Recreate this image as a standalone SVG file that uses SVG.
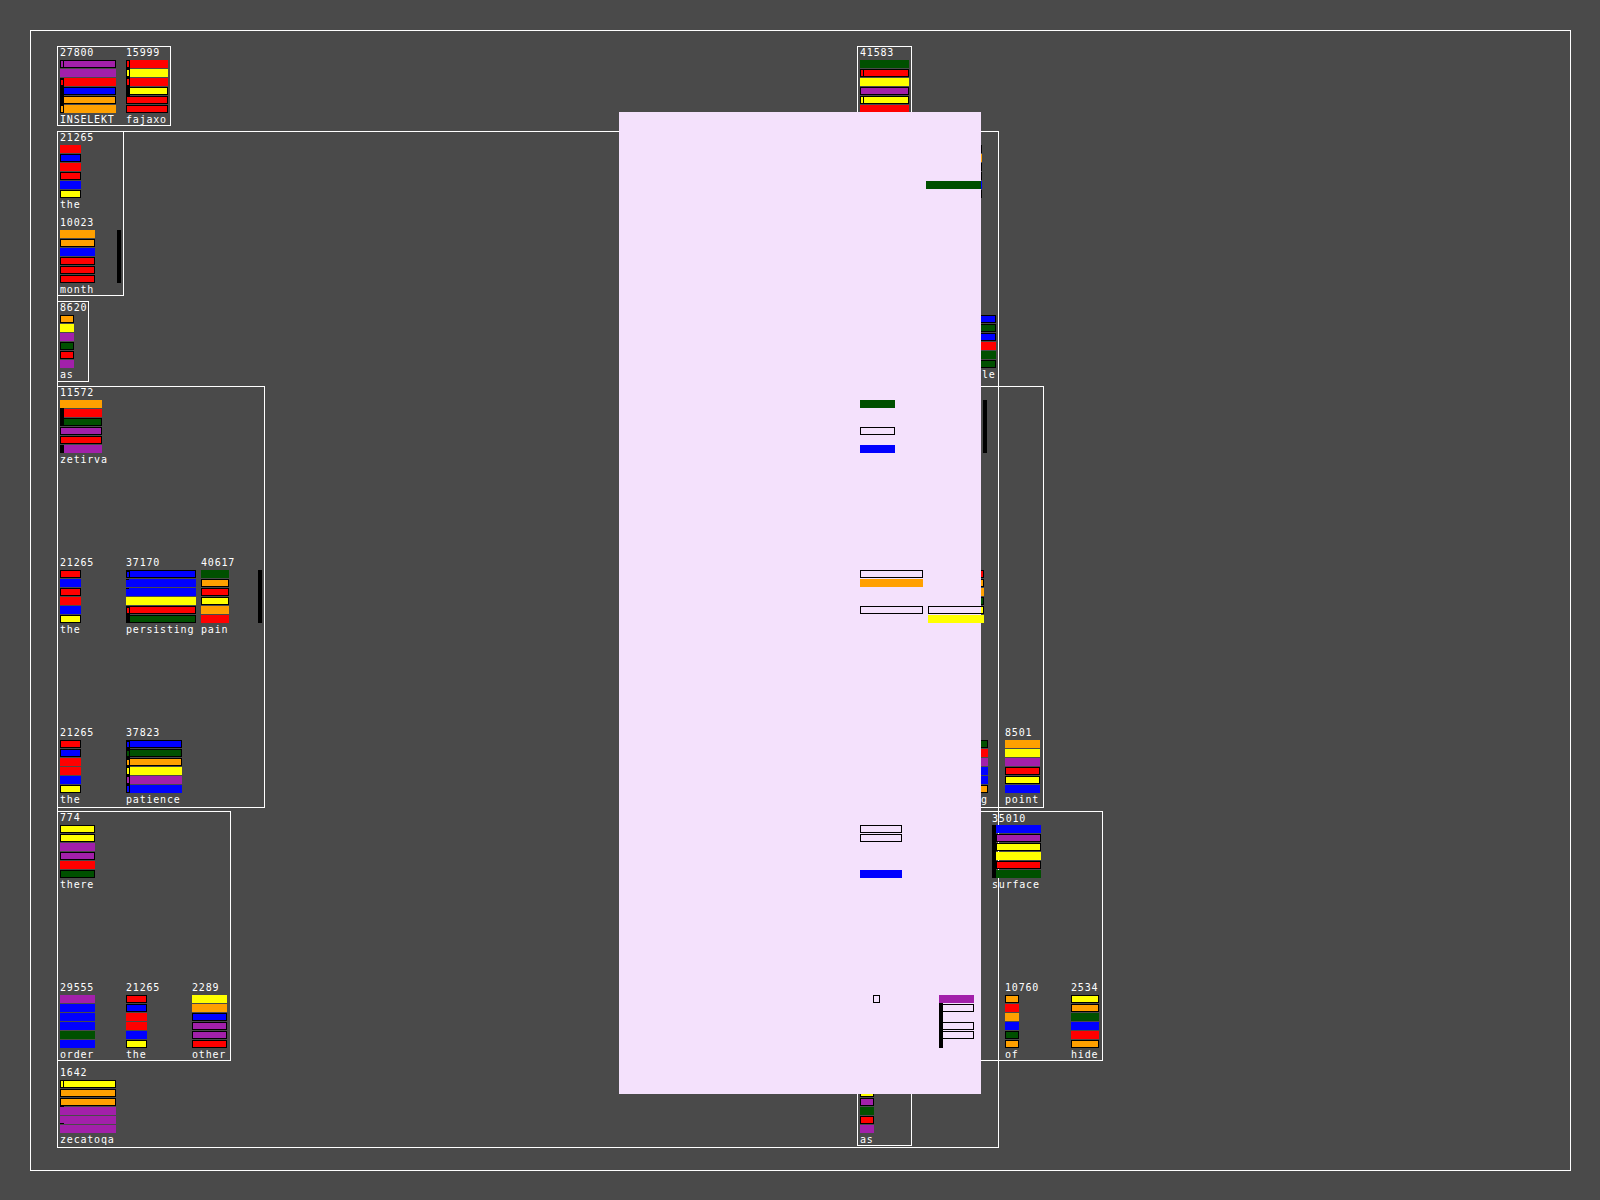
<svg xmlns="http://www.w3.org/2000/svg" width="1600" height="1200" viewBox="0 0 1600 1200">
<style>
.r{fill:#ff0000}.bl{fill:#0000ff}.y{fill:#ffff00}.o{fill:#ffa000}.p{fill:#a220aa}.g{fill:#005000}.k{fill:#000}
.s{stroke:#000;stroke-width:1}
.ol{fill:none;stroke:#000;stroke-width:1}
.box{fill:none;stroke:#fff;stroke-width:1}
.t{font-family:"DejaVu Sans Mono","Liberation Mono",monospace;font-size:10px;letter-spacing:0.8px;fill:#fff}
</style>
<rect width="1600" height="1200" fill="#4a4a4a"/>
<g id="boxes">
<rect class="box" x="30.5" y="30.5" width="1540" height="1140"/>
<rect class="box" x="57.5" y="46.5" width="113" height="79"/>
<rect class="box" x="857.5" y="46.5" width="54" height="79"/>
<rect class="box" x="57.5" y="131.5" width="941" height="1016"/>
<rect class="box" x="57.5" y="131.5" width="66" height="164"/>
<rect class="box" x="57.5" y="301.5" width="31" height="80"/>
<rect class="box" x="57.5" y="386.5" width="207" height="421"/>
<rect class="box" x="57.5" y="811.5" width="173" height="249"/>
<rect class="box" x="850.5" y="386.5" width="193" height="421"/>
<rect class="box" x="900.5" y="811.5" width="202" height="249"/>
<rect class="box" x="857.5" y="1066.5" width="54" height="79"/>
</g>
<g id="n27800">
<text class="t" x="60" y="56">27800</text>
<rect class="p s" x="60.5" y="60.5" width="55" height="7"/><rect class="k" x="63" y="61" width="1" height="6"/>
<rect class="p" x="60" y="69" width="56" height="8"/>
<rect class="r" x="60" y="78" width="56" height="8"/>
<rect class="bl s" x="60.5" y="87.5" width="55" height="7"/>
<rect class="o s" x="60.5" y="96.5" width="55" height="7"/>
<rect class="o" x="60" y="105" width="56" height="8"/>
<rect class="k" x="60" y="78" width="4" height="35"/><rect class="r" x="61" y="80" width="2" height="5"/><rect class="o" x="61" y="106" width="2" height="6"/>
<text class="t" x="60" y="123">INSELEKT</text>
</g>
<g id="n15999">
<text class="t" x="126" y="56">15999</text>
<rect class="r" x="126" y="60" width="42" height="8"/>
<rect class="y" x="126" y="69" width="42" height="8"/>
<rect class="r" x="126" y="78" width="42" height="8"/>
<rect class="y s" x="126.5" y="87.5" width="41" height="7"/>
<rect class="r s" x="126.5" y="96.5" width="41" height="7"/>
<rect class="r s" x="126.5" y="105.5" width="41" height="7"/>
<rect class="k" x="126" y="60" width="4" height="36"/><rect class="r" x="127" y="61" width="2" height="6"/><rect class="y" x="127" y="70" width="2" height="6"/><rect class="r" x="127" y="79" width="2" height="6"/>
<text class="t" x="126" y="123">fajaxo</text>
</g>
<g id="n41583">
<text class="t" x="860" y="56">41583</text>
<rect class="g" x="860" y="60" width="49" height="8"/>
<rect class="r s" x="860.5" y="69.5" width="48" height="7"/>
<rect class="y" x="860" y="78" width="49" height="8"/>
<rect class="p s" x="860.5" y="87.5" width="48" height="7"/>
<rect class="y s" x="860.5" y="96.5" width="48" height="7"/>
<rect class="r" x="860" y="105" width="49" height="8"/>
<rect class="k" x="860" y="69" width="4" height="8"/><rect class="r" x="861" y="70" width="2" height="6"/>
<rect class="k" x="860" y="96" width="4" height="8"/><rect class="y" x="861" y="97" width="2" height="6"/>
</g>
<g id="n21265a">
<text class="t" x="60" y="141">21265</text>
<rect class="r" x="60" y="145" width="21" height="8"/>
<rect class="bl s" x="60.5" y="154.5" width="20" height="7"/>
<rect class="r" x="60" y="163" width="21" height="8"/>
<rect class="r s" x="60.5" y="172.5" width="20" height="7"/>
<rect class="bl" x="60" y="181" width="21" height="8"/>
<rect class="y s" x="60.5" y="190.5" width="20" height="7"/>
<text class="t" x="60" y="208">the</text>
</g>
<g id="n10023">
<text class="t" x="60" y="226">10023</text>
<rect class="o" x="60" y="230" width="35" height="8"/>
<rect class="o s" x="60.5" y="239.5" width="34" height="7"/>
<rect class="bl" x="60" y="248" width="35" height="8"/>
<rect class="r s" x="60.5" y="257.5" width="34" height="7"/>
<rect class="r s" x="60.5" y="266.5" width="34" height="7"/>
<rect class="r s" x="60.5" y="275.5" width="34" height="7"/>
<rect class="k" x="117" y="230" width="4" height="53"/>
<text class="t" x="60" y="293">month</text>
</g>
<g id="n8620">
<text class="t" x="60" y="311">8620</text>
<rect class="o s" x="60.5" y="315.5" width="13" height="7"/>
<rect class="y" x="60" y="324" width="14" height="8"/>
<rect class="p" x="60" y="333" width="14" height="8"/>
<rect class="g s" x="60.5" y="342.5" width="13" height="7"/>
<rect class="r s" x="60.5" y="351.5" width="13" height="7"/>
<rect class="p" x="60" y="360" width="14" height="8"/>
<text class="t" x="60" y="378">as</text>
</g>
<g id="n11572">
<text class="t" x="60" y="396">11572</text>
<rect class="o" x="60" y="400" width="42" height="8"/>
<rect class="r" x="60" y="409" width="42" height="8"/>
<rect class="g s" x="60.5" y="418.5" width="41" height="7"/>
<rect class="p s" x="60.5" y="427.5" width="41" height="7"/>
<rect class="r s" x="60.5" y="436.5" width="41" height="7"/>
<rect class="p" x="60" y="445" width="42" height="8"/>
<rect class="k" x="60" y="408" width="4" height="18"/><rect class="k" x="60" y="445" width="4" height="8"/>
<text class="t" x="60" y="463">zetirva</text>
</g>
<g id="n21265b">
<text class="t" x="60" y="566">21265</text>
<rect class="r s" x="60.5" y="570.5" width="20" height="7"/>
<rect class="bl" x="60" y="579" width="21" height="8"/>
<rect class="r s" x="60.5" y="588.5" width="20" height="7"/>
<rect class="r" x="60" y="597" width="21" height="8"/>
<rect class="bl" x="60" y="606" width="21" height="8"/>
<rect class="y s" x="60.5" y="615.5" width="20" height="7"/>
<text class="t" x="60" y="633">the</text>
</g>
<g id="n37170">
<text class="t" x="126" y="566">37170</text>
<rect class="bl s" x="126.5" y="570.5" width="69" height="7"/>
<rect class="bl" x="126" y="579" width="70" height="8"/>
<rect class="bl" x="126" y="588" width="70" height="8"/>
<rect class="y" x="126" y="597" width="70" height="8"/>
<rect class="r s" x="126.5" y="606.5" width="69" height="7"/>
<rect class="g s" x="126.5" y="615.5" width="69" height="7"/>
<rect class="k" x="126" y="570" width="4" height="8"/><rect class="bl" x="127" y="572" width="2" height="5"/>
<rect class="k" x="126" y="579" width="3" height="1"/><rect class="k" x="126" y="588" width="3" height="1"/>
<rect class="k" x="126" y="606" width="4" height="17"/><rect class="r" x="127" y="608" width="2" height="5"/>
<text class="t" x="126" y="633">persisting</text>
</g>
<g id="n40617">
<text class="t" x="201" y="566">40617</text>
<rect class="g" x="201" y="570" width="28" height="8"/>
<rect class="o s" x="201.5" y="579.5" width="27" height="7"/>
<rect class="r s" x="201.5" y="588.5" width="27" height="7"/>
<rect class="y s" x="201.5" y="597.5" width="27" height="7"/>
<rect class="o" x="201" y="606" width="28" height="8"/>
<rect class="r" x="201" y="615" width="28" height="8"/>
<rect class="k" x="258" y="570" width="4" height="53"/>
<text class="t" x="201" y="633">pain</text>
</g>
<g id="n21265c">
<text class="t" x="60" y="736">21265</text>
<rect class="r s" x="60.5" y="740.5" width="20" height="7"/>
<rect class="bl s" x="60.5" y="749.5" width="20" height="7"/>
<rect class="r" x="60" y="758" width="21" height="8"/>
<rect class="r" x="60" y="767" width="21" height="8"/>
<rect class="bl" x="60" y="776" width="21" height="8"/>
<rect class="y s" x="60.5" y="785.5" width="20" height="7"/>
<text class="t" x="60" y="803">the</text>
</g>
<g id="n37823">
<text class="t" x="126" y="736">37823</text>
<rect class="bl s" x="126.5" y="740.5" width="55" height="7"/>
<rect class="g s" x="126.5" y="749.5" width="55" height="7"/>
<rect class="o s" x="126.5" y="758.5" width="55" height="7"/>
<rect class="y" x="126" y="767" width="56" height="8"/>
<rect class="p" x="126" y="776" width="56" height="8"/>
<rect class="bl" x="126" y="785" width="56" height="8"/>
<rect class="k" x="126" y="740" width="4" height="53"/>
<rect class="bl" x="127" y="742" width="2" height="5"/><rect class="g" x="127" y="751" width="2" height="5"/><rect class="o" x="127" y="760" width="2" height="5"/><rect class="y" x="127" y="768" width="2" height="6"/><rect class="p" x="127" y="777" width="2" height="6"/><rect class="bl" x="127" y="786" width="2" height="6"/>
<text class="t" x="126" y="803">patience</text>
</g>
<g id="n774">
<text class="t" x="60" y="821">774</text>
<rect class="y s" x="60.5" y="825.5" width="34" height="7"/>
<rect class="y s" x="60.5" y="834.5" width="34" height="7"/>
<rect class="p" x="60" y="843" width="35" height="8"/>
<rect class="p s" x="60.5" y="852.5" width="34" height="7"/>
<rect class="r" x="60" y="861" width="35" height="8"/>
<rect class="g s" x="60.5" y="870.5" width="34" height="7"/>
<text class="t" x="60" y="888">there</text>
</g>
<g id="n29555">
<text class="t" x="60" y="991">29555</text>
<rect class="p" x="60" y="995" width="35" height="8"/>
<rect class="bl" x="60" y="1004" width="35" height="8"/>
<rect class="bl" x="60" y="1013" width="35" height="8"/>
<rect class="bl" x="60" y="1022" width="35" height="8"/>
<rect class="g" x="60" y="1031" width="35" height="8"/>
<rect class="bl" x="60" y="1040" width="35" height="8"/>
<text class="t" x="60" y="1058">order</text>
</g>
<g id="n21265d">
<text class="t" x="126" y="991">21265</text>
<rect class="r s" x="126.5" y="995.5" width="20" height="7"/>
<rect class="bl s" x="126.5" y="1004.5" width="20" height="7"/>
<rect class="r" x="126" y="1013" width="21" height="8"/>
<rect class="r" x="126" y="1022" width="21" height="8"/>
<rect class="bl" x="126" y="1031" width="21" height="8"/>
<rect class="y s" x="126.5" y="1040.5" width="20" height="7"/>
<text class="t" x="126" y="1058">the</text>
</g>
<g id="n2289">
<text class="t" x="192" y="991">2289</text>
<rect class="y" x="192" y="995" width="35" height="8"/>
<rect class="o" x="192" y="1004" width="35" height="8"/>
<rect class="bl s" x="192.5" y="1013.5" width="34" height="7"/>
<rect class="p s" x="192.5" y="1022.5" width="34" height="7"/>
<rect class="p s" x="192.5" y="1031.5" width="34" height="7"/>
<rect class="r s" x="192.5" y="1040.5" width="34" height="7"/>
<text class="t" x="192" y="1058">other</text>
</g>
<g id="n1642">
<text class="t" x="60" y="1076">1642</text>
<rect class="y s" x="60.5" y="1080.5" width="55" height="7"/>
<rect class="o s" x="60.5" y="1089.5" width="55" height="7"/>
<rect class="o s" x="60.5" y="1098.5" width="55" height="7"/>
<rect class="p" x="60" y="1107" width="56" height="8"/>
<rect class="p" x="60" y="1116" width="56" height="8"/>
<rect class="p" x="60" y="1125" width="56" height="8"/>
<rect class="k" x="60" y="1080" width="4" height="8"/><rect class="y" x="61" y="1081" width="2" height="6"/>
<rect class="k" x="60" y="1106" width="4" height="1"/><rect class="k" x="60" y="1123" width="4" height="1"/>
<text class="t" x="60" y="1143">zecatoqa</text>
</g>
<g id="nAsBottom">
<rect class="y s" x="860.5" y="1089.5" width="13" height="7"/>
<rect class="p s" x="860.5" y="1098.5" width="13" height="7"/>
<rect class="g" x="860" y="1107" width="14" height="8"/>
<rect class="r s" x="860.5" y="1116.5" width="13" height="7"/>
<rect class="p" x="860" y="1125" width="14" height="8"/>
<text class="t" x="860" y="1143">as</text>
</g>
<g id="nHidden1">
<rect class="r s" x="961.5" y="145.5" width="20" height="7"/>
<rect class="o" x="961" y="154" width="21" height="8"/>
<rect class="r s" x="961.5" y="163.5" width="20" height="7"/>
<rect class="r s" x="961.5" y="172.5" width="20" height="7"/>
<rect class="bl" x="961" y="181" width="21" height="8"/>
<rect class="y s" x="961.5" y="190.5" width="20" height="7"/>
</g>
<g id="nLe">
<rect class="bl s" x="961.5" y="315.5" width="34" height="7"/>
<rect class="g s" x="961.5" y="324.5" width="34" height="7"/>
<rect class="bl s" x="961.5" y="333.5" width="34" height="7"/>
<rect class="r" x="961" y="342" width="35" height="8"/>
<rect class="g" x="961" y="351" width="35" height="8"/>
<rect class="g s" x="961.5" y="360.5" width="34" height="7"/>
<text class="t" x="982" y="378">le</text>
</g>
<g id="nHidden2">
<rect class="k" x="983" y="400" width="4" height="53"/>
<rect class="r s" x="928.5" y="570.5" width="55" height="7"/>
<rect class="o s" x="928.5" y="579.5" width="55" height="7"/>
<rect class="o" x="928" y="588" width="56" height="8"/>
<rect class="g s" x="928.5" y="597.5" width="55" height="7"/>
<rect class="y s" x="928.5" y="606.5" width="55" height="7"/>
<rect class="y" x="928" y="615" width="56" height="8"/>
</g>
<g id="nHidden3">
<rect class="g s" x="953.5" y="740.5" width="34" height="7"/>
<rect class="r" x="953" y="749" width="35" height="8"/>
<rect class="p" x="953" y="758" width="35" height="8"/>
<rect class="bl" x="953" y="767" width="35" height="8"/>
<rect class="bl" x="953" y="776" width="35" height="8"/>
<rect class="o s" x="953.5" y="785.5" width="34" height="7"/>
<text class="t" x="981" y="803">g</text>
</g>
<g id="n8501">
<text class="t" x="1005" y="736">8501</text>
<rect class="o" x="1005" y="740" width="35" height="8"/>
<rect class="y" x="1005" y="749" width="35" height="8"/>
<rect class="p" x="1005" y="758" width="35" height="8"/>
<rect class="r s" x="1005.5" y="767.5" width="34" height="7"/>
<rect class="y s" x="1005.5" y="776.5" width="34" height="7"/>
<rect class="bl" x="1005" y="785" width="35" height="8"/>
<text class="t" x="1005" y="803">point</text>
</g>
<g id="n35010">
<text class="t" x="992" y="822">35010</text>
<rect class="k" x="992" y="825" width="4" height="53"/>
<rect class="bl" x="996" y="825" width="45" height="8"/>
<rect class="p s" x="996.5" y="834.5" width="44" height="7"/>
<rect class="y s" x="996.5" y="843.5" width="44" height="7"/>
<rect class="y" x="996" y="852" width="45" height="8"/>
<rect class="r s" x="996.5" y="861.5" width="44" height="7"/>
<rect class="g" x="996" y="870" width="45" height="8"/>
<text class="t" x="992" y="888">surface</text>
</g>
<g id="n10760">
<text class="t" x="1005" y="991">10760</text>
<rect class="o s" x="1005.5" y="995.5" width="13" height="7"/>
<rect class="r" x="1005" y="1004" width="14" height="8"/>
<rect class="o" x="1005" y="1013" width="14" height="8"/>
<rect class="bl" x="1005" y="1022" width="14" height="8"/>
<rect class="g s" x="1005.5" y="1031.5" width="13" height="7"/>
<rect class="o s" x="1005.5" y="1040.5" width="13" height="7"/>
<text class="t" x="1005" y="1058">of</text>
</g>
<g id="n2534">
<text class="t" x="1071" y="991">2534</text>
<rect class="y s" x="1071.5" y="995.5" width="27" height="7"/>
<rect class="o s" x="1071.5" y="1004.5" width="27" height="7"/>
<rect class="g" x="1071" y="1013" width="28" height="8"/>
<rect class="bl" x="1071" y="1022" width="28" height="8"/>
<rect class="r" x="1071" y="1031" width="28" height="8"/>
<rect class="o s" x="1071.5" y="1040.5" width="27" height="7"/>
<text class="t" x="1071" y="1058">hide</text>
</g>
<rect id="overlay" x="619" y="112" width="362" height="982" fill="#f4e1fc"/>
<g id="onTop">
<rect class="g" x="926" y="181" width="55" height="8"/>
<rect class="g" x="860" y="400" width="35" height="8"/>
<rect class="ol" x="860.5" y="427.5" width="34" height="7"/>
<rect class="bl" x="860" y="445" width="35" height="8"/>
<rect class="ol" x="860.5" y="570.5" width="62" height="7"/>
<rect class="o" x="860" y="579" width="63" height="8"/>
<rect class="ol" x="860.5" y="606.5" width="62" height="7"/>
<rect class="ol" x="928.5" y="606.5" width="55" height="7"/>
<rect class="y" x="928" y="615" width="56" height="8"/>
<rect class="ol" x="860.5" y="825.5" width="41" height="7"/>
<rect class="ol" x="860.5" y="834.5" width="41" height="7"/>
<rect class="bl" x="860" y="870" width="42" height="8"/>
<rect class="ol" x="873.5" y="995.5" width="6" height="7"/>
<rect class="p" x="939" y="995" width="35" height="8"/>
<rect class="k" x="939" y="1003" width="4" height="45"/>
<rect class="ol" x="942.5" y="1004.5" width="31" height="7"/>
<rect class="ol" x="942.5" y="1022.5" width="31" height="7"/>
<rect class="ol" x="942.5" y="1031.5" width="31" height="7"/>
</g>
</svg>
